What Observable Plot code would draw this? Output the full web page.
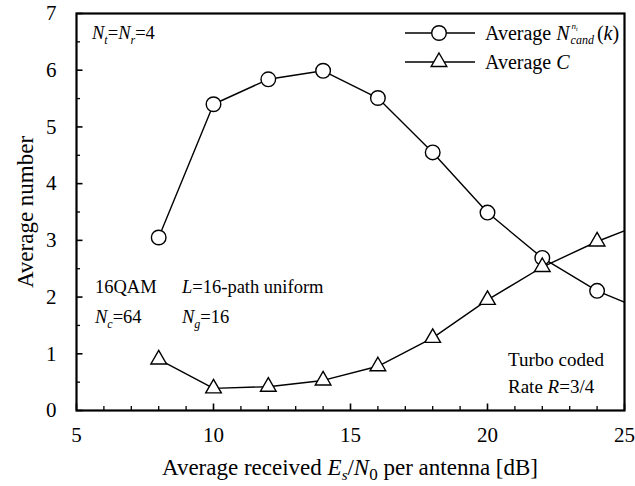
<!DOCTYPE html>
<html><head><meta charset="utf-8">
<script src="https://cdn.jsdelivr.net/npm/d3@7"></script>
<script src="https://cdn.jsdelivr.net/npm/@observablehq/plot@0.6"></script>
<style>
body{margin:0;background:#fff}
svg{font-family:"Liberation Serif","Times New Roman",serif}
</style>
</head><body><div id="chart"></div>
<script>
// Data
const snr = [8, 10, 12, 14, 16, 18, 20, 22, 24, 26];
const avgNcand = [3.05, 5.40, 5.84, 5.99, 5.51, 4.55, 3.49, 2.69, 2.11, 1.71];
const avgC = [0.90, 0.39, 0.42, 0.53, 0.78, 1.28, 1.95, 2.53, 2.98, 3.36];
const xTicks = [5, 10, 15, 20, 25];
const xMinor = [6, 7, 8, 9, 11, 12, 13, 14, 16, 17, 18, 19, 21, 22, 23, 24];
const yTicks = [0, 1, 2, 3, 4, 5, 6, 7];
const yMinor = [0.5, 1.5, 2.5, 3.5, 4.5, 5.5, 6.5];

const rowsN = snr.map((x, i) => ({x, y: avgNcand[i]}));
const rowsC = snr.map((x, i) => ({x, y: avgC[i]}));

const W = 635, H = 486, mL = 76, mR = 11, mT = 13, mB = 76;
const PW = W - mL - mR, PH = H - mT - mB;
const FS = 21;

const svg = Plot.plot({
  width: W, height: H,
  marginLeft: mL, marginRight: mR, marginTop: mT, marginBottom: mB,
  style: {fontFamily: "Liberation Serif, Times New Roman, serif", fontSize: FS + "px", color: "black", background: "white"},
  x: {domain: [5, 25], label: null},
  y: {domain: [0, 7], label: null},
  marks: [
    // inward ticks
    Plot.ruleX(xMinor, {x: d => d, insetTop: PH - 4, stroke: "black", strokeWidth: 1.3}),
    Plot.ruleX(xTicks, {x: d => d, insetTop: PH - 6.5, stroke: "black", strokeWidth: 1.6}),
    Plot.ruleY(yMinor, {y: d => d, insetRight: PW - 4, stroke: "black", strokeWidth: 1.3}),
    Plot.ruleY(yTicks, {y: d => d, insetRight: PW - 6.5, stroke: "black", strokeWidth: 1.6}),
    // tick labels
    Plot.axisX(xTicks, {tickSize: 0, tickPadding: 17, fontSize: FS, label: null, tickFormat: d => String(d)}),
    Plot.axisY(yTicks, {tickSize: 0, tickPadding: 20, fontSize: FS, label: null, tickFormat: d => String(d)}),
    // series
    Plot.line(rowsN, {x: "x", y: "y", stroke: "black", strokeWidth: 1.4, clip: true}),
    Plot.line(rowsC, {x: "x", y: "y", stroke: "black", strokeWidth: 1.4, clip: true}),
    Plot.dot(rowsN, {x: "x", y: "y", symbol: "circle", r: 7.3, fill: "white", stroke: "black", strokeWidth: 1.4, clip: true}),
    Plot.dot(rowsC, {x: "x", y: "y", symbol: "triangle", r: 5.8, fill: "white", stroke: "black", strokeWidth: 1.4, clip: true}),
    Plot.frame({stroke: "black", strokeWidth: 2.2})
  ]
});
document.getElementById("chart").appendChild(svg);

const root = d3.select(svg);

// helper: rich text from segments [{t, i (italic), sub, sup, size}]
function rich(x, y, segs, opts = {}) {
  const t = root.append("text").attr("x", x).attr("y", y)
    .attr("font-size", opts.size || 18.5).attr("fill", "black")
    .attr("text-anchor", opts.anchor || "start");
  if (opts.transform) t.attr("transform", opts.transform);
  let shift = 0;
  for (const s of segs) {
    const ts = t.append("tspan").text(s.t);
    if (s.i) ts.attr("font-style", "italic");
    const target = s.sub ? (s.dsub || 5) : s.sup ? -7 : 0;
    if (target !== shift) { ts.attr("dy", target - shift); shift = target; }
    if (s.sub || s.sup) ts.attr("font-size", s.size || 12);
    else if (s.size) ts.attr("font-size", s.size);
  }
  return t;
}

// Axis titles
rich((mL + W - mR) / 2, 475, [
  {t: "Average received "}, {t: "E", i: 1}, {t: "s", i: 1, sub: 1, size: 15, dsub: 5},
  {t: "/"}, {t: "N", i: 1}, {t: "0", sub: 1, size: 17, dsub: 5}, {t: " per antenna [dB]"}
], {size: 23, anchor: "middle"});
rich(0, 0, [{t: "Average number"}], {size: 23, anchor: "middle", transform: "translate(33,212) rotate(-90)"});

// Annotations
rich(92, 39, [{t: "N", i: 1}, {t: "t", i: 1, sub: 1}, {t: "="}, {t: "N", i: 1}, {t: "r", i: 1, sub: 1}, {t: "=4"}]);
rich(95, 293, [{t: "16QAM"}]);
rich(182, 293, [{t: "L", i: 1}, {t: "=16-path uniform"}]);
rich(95, 323, [{t: "N", i: 1}, {t: "c", i: 1, sub: 1}, {t: "=64"}]);
rich(182, 323, [{t: "N", i: 1}, {t: "g", i: 1, sub: 1}, {t: "=16"}]);
rich(508, 366, [{t: "Turbo coded"}], {size: 19});
rich(508, 393, [{t: "Rate "}, {t: "R", i: 1}, {t: "=3/4"}], {size: 19});

// Legend
const LFS = 20;
const legRows = [33, 62];
for (const y of legRows) {
  root.append("line").attr("x1", 405).attr("x2", 475).attr("y1", y).attr("y2", y)
    .attr("stroke", "black").attr("stroke-width", 1.4);
}
root.append("circle").attr("cx", 439).attr("cy", legRows[0]).attr("r", 7.3)
  .attr("fill", "white").attr("stroke", "black").attr("stroke-width", 1.4);
root.append("path").attr("d", d3.symbol(d3.symbolTriangle, Math.PI * 5.8 * 5.8)())
  .attr("transform", `translate(439,${legRows[1]})`)
  .attr("fill", "white").attr("stroke", "black").attr("stroke-width", 1.4);

const l1 = rich(485, legRows[0] + 7, [{t: "Average "}, {t: "N", i: 1}], {size: LFS});
const x0 = 485 + l1.node().getComputedTextLength() + 1;
const sup = rich(x0 + 1, legRows[0] - 4, [{t: "n", i: 1, size: 9}, {t: "t", i: 1, size: 6}]);
sup.select("tspan:last-child").attr("dy", 2);
const sub = rich(x0, legRows[0] + 11, [{t: "cand", i: 1, size: 12}]);
const wsub = sub.node().getComputedTextLength();
rich(x0 + wsub + 3, legRows[0] + 7, [{t: "("}, {t: "k", i: 1}, {t: ")"}], {size: LFS});
rich(485, legRows[1] + 7, [{t: "Average "}, {t: "C", i: 1}], {size: LFS});
</script>
</body></html>
